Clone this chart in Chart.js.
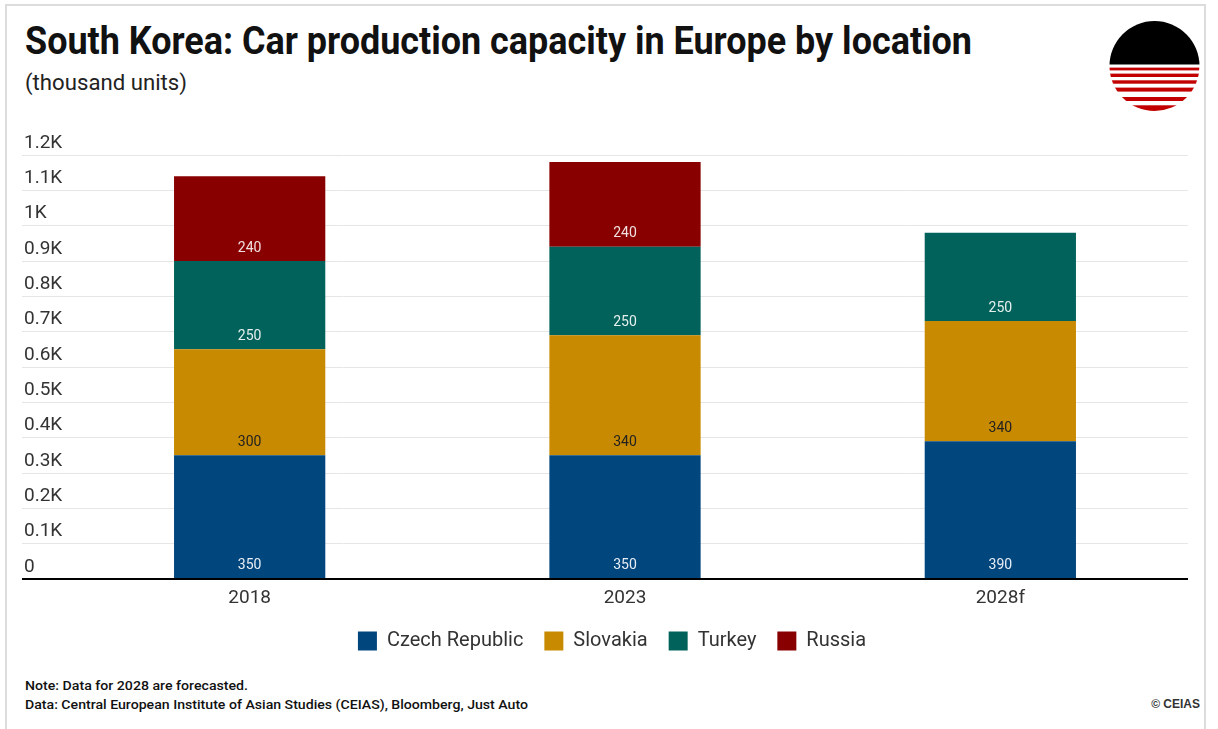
<!DOCTYPE html>
<html>
<head>
<meta charset="utf-8">
<script src="https://cdn.jsdelivr.net/npm/chart.js@4.4.1/dist/chart.umd.min.js"></script>
<style>
  body { margin: 0; width: 1218px; height: 729px; background: #fff; overflow: hidden; position: relative; font-family: Roboto, sans-serif; }
  .frame { position: absolute; left: 5px; top: 4px; width: 1201px; height: 760px; border: 2px solid #dcdcdc; box-sizing: border-box; }
  .txt { position: absolute; white-space: nowrap; transform-origin: left top; line-height: 1; }
  #title { left: 25px; top: 22px; font-size: 39px; font-weight: 700; color: #111; }
  #subtitle { left: 25px; top: 72px; font-size: 22px; color: #222; }
  #note { left: 25px; top: 679px; font-size: 13px; font-weight: 500; color: #111; }
  #source { left: 25px; top: 698px; font-size: 13px; font-weight: 500; color: #111; }
  #credit { right: 18px; top: 697px; font: bold 12px "Liberation Sans", Arial, sans-serif; color: #333; position: absolute; }
  #logo { position: absolute; left: 1109px; top: 21px; }
  #wrap { position: absolute; left: 0; top: 120px; }
</style>
</head>
<body>
<div class="frame"></div>
<div class="txt" id="title">South Korea: Car production capacity in Europe by location</div>
<div class="txt" id="subtitle">(thousand units)</div>

<svg id="logo" width="92" height="92" viewBox="0 0 92 92">
  <defs><clipPath id="disc"><circle cx="45.5" cy="45" r="45"/></clipPath></defs>
  <g clip-path="url(#disc)">
    <rect x="0" y="0" width="92" height="43.5" fill="#000"/>
    <rect x="0" y="46.6" width="92" height="2.8" fill="#c20000"/>
    <rect x="0" y="52.6" width="92" height="3.4" fill="#c20000"/>
    <rect x="0" y="59.3" width="92" height="3.4" fill="#c20000"/>
    <rect x="0" y="66.6" width="92" height="4" fill="#c20000"/>
    <rect x="0" y="76" width="92" height="4" fill="#c20000"/>
    <rect x="0" y="84.3" width="92" height="8" fill="#c20000"/>
  </g>
</svg>

<div id="wrap"><canvas id="capacityChart" width="1218" height="541"></canvas></div>

<div class="txt" id="note">Note: Data for 2028 are forecasted.</div>
<div class="txt" id="source">Data: Central European Institute of Asian Studies (CEIAS), Bloomberg, Just Auto</div>
<div id="credit">© CEIAS</div>

<script>
// thousand units per year
const years = ['2018', '2023', '2028f'];
const czechRepublic = [350, 350, 390];
const slovakia = [300, 340, 340];
const turkey = [250, 250, 250];
const russia = [240, 240, null];

const seriesNames = ['Czech Republic', 'Slovakia', 'Turkey', 'Russia'];
const seriesColors = ['#02467e', '#c88a00', '#00625a', '#880000'];
const labelColors = ['#e8eef5', '#222222', '#e6f0ee', '#f2e0e0'];

// squeeze text blocks to a condensed width
function fitWidth(id, w) {
  const el = document.getElementById(id);
  const r = el.getBoundingClientRect().width;
  el.style.transform = 'scaleX(' + (w / r) + ')';
}
fitWidth('title', 947);
fitWidth('subtitle', 162);
fitWidth('note', 223);
fitWidth('source', 503);

// value labels near the bottom of each stacked segment
const segmentLabels = {
  id: 'segmentLabels',
  afterDatasetsDraw(chart) {
    const ctx = chart.ctx;
    ctx.save();
    ctx.font = '14px Roboto';
    ctx.textAlign = 'center';
    ctx.textBaseline = 'middle';
    chart.data.datasets.forEach((ds, i) => {
      chart.getDatasetMeta(i).data.forEach((bar, j) => {
        const v = ds.data[j];
        if (v == null) return;
        ctx.fillStyle = labelColors[i];
        ctx.fillText(String(v), bar.x, bar.base - 13);
      });
    });
    ctx.restore();
  }
};

const allSeries = [czechRepublic, slovakia, turkey, russia];

new Chart(document.getElementById('capacityChart').getContext('2d'), {
  type: 'bar',
  data: {
    labels: years,
    datasets: allSeries.map((vals, i) => ({
      label: seriesNames[i],
      data: vals,
      backgroundColor: seriesColors[i],
      borderWidth: 0,
      barPercentage: 1,
      categoryPercentage: 0.403
    }))
  },
  options: {
    responsive: false,
    animation: false,
    layout: { padding: { top: 35, left: 36, right: 30, bottom: 0 } },
    plugins: {
      legend: {
        position: 'bottom',
        labels: {
          boxWidth: 19,
          boxHeight: 19,
          padding: 21,
          color: '#333',
          font: { family: 'Roboto', size: 20 }
        }
      },
      tooltip: { enabled: false }
    },
    scales: {
      x: {
        stacked: true,
        afterFit(scale) { scale.height = 31; },
        grid: { display: false, drawTicks: false },
        border: { display: false },
        ticks: { color: '#333', padding: 8, font: { family: 'Roboto', size: 19 } }
      },
      y: {
        stacked: true,
        min: 0,
        max: 1200,
        afterFit(scale) { scale.width = 26; },
        border: { display: false },
        grid: {
          tickLength: 40,
          color: c => (c.tick && c.tick.value === 0 ? '#000' : '#e6e6e6'),
          lineWidth: c => (c.tick && c.tick.value === 0 ? 2 : 1)
        },
        ticks: {
          stepSize: 100,
          mirror: true,
          crossAlign: 'near',
          padding: -38,
          labelOffset: -12,
          color: '#333',
          font: { family: 'Roboto', size: 19 },
          callback: v => (v === 0 ? '0' : (v / 1000) + 'K')
        }
      }
    }
  },
  plugins: [segmentLabels]
});
</script>
</body>
</html>
